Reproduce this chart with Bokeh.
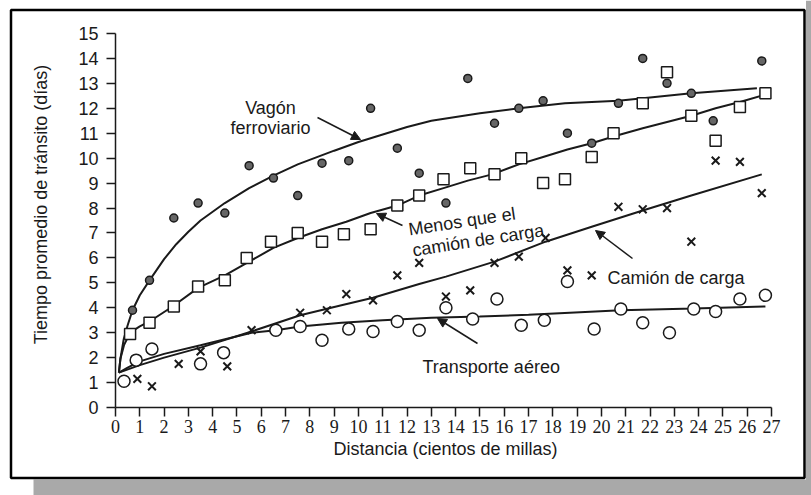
import math
from bokeh.plotting import figure
from bokeh.models import LinearAxis, FixedTicker, Arrow, NormalHead, Range1d
from bokeh.core.properties import value
from bokeh.embed import file_html
from bokeh.resources import INLINE

# ---------------- data ----------------
rail_x = [0.7, 1.4, 2.4, 3.4, 4.5, 5.5, 6.5, 7.5, 8.5, 9.6, 10.5, 11.6, 12.5, 13.6,
          14.5, 15.6, 16.6, 17.6, 18.6, 19.6, 20.7, 21.7, 22.7, 23.7, 24.6, 26.6]
rail_y = [3.9, 5.1, 7.6, 8.2, 7.8, 9.7, 9.2, 8.5, 9.8, 9.9, 12.0, 10.4, 9.4, 8.2,
          13.2, 11.4, 12.0, 12.3, 11.0, 10.6, 12.2, 14.0, 13.0, 12.6, 11.5, 13.9]

ltl_x = [0.6, 1.4, 2.4, 3.4, 4.5, 5.4, 6.4, 7.5, 8.5, 9.4, 10.5, 11.6, 12.5, 13.5,
         14.6, 15.6, 16.7, 17.6, 18.5, 19.6, 20.5, 21.7, 22.7, 23.7, 24.7, 25.7, 26.75]
ltl_y = [2.95, 3.4, 4.05, 4.85, 5.1, 6.0, 6.65, 7.0, 6.65, 6.95, 7.15, 8.1, 8.5, 9.15,
         9.6, 9.35, 10.0, 9.0, 9.15, 10.05, 11.0, 12.2, 13.45, 11.7, 10.7, 12.05, 12.6]

truck_x = [0.9, 1.5, 2.6, 3.5, 4.6, 5.6, 7.6, 8.7, 9.5, 10.6, 11.6, 12.5, 13.6, 14.6,
           15.6, 16.6, 17.7, 18.6, 19.6, 20.7, 21.7, 22.7, 23.7, 24.7, 25.7, 26.6]
truck_y = [1.15, 0.85, 1.75, 2.25, 1.65, 3.1, 3.8, 3.9, 4.55, 4.3, 5.3, 5.8, 4.45, 4.7,
           5.8, 6.05, 6.8, 5.5, 5.3, 8.05, 7.95, 8.0, 6.65, 9.9, 9.85, 8.6]

air_x = [0.35, 0.85, 1.5, 3.5, 4.45, 6.6, 7.6, 8.5, 9.6, 10.6, 11.6, 12.5, 13.6, 14.7,
         15.7, 16.7, 17.65, 18.6, 19.7, 20.8, 21.7, 22.8, 23.8, 24.7, 25.7, 26.75]
air_y = [1.05, 1.9, 2.35, 1.75, 2.2, 3.1, 3.25, 2.7, 3.15, 3.05, 3.45, 3.1, 4.0, 3.55,
         4.35, 3.3, 3.5, 5.05, 3.15, 3.95, 3.4, 3.0, 3.95, 3.85, 4.35, 4.5]

# fitted curves
rail_cx = [0.14, 0.21, 0.34, 0.5, 0.7, 1.0, 1.4, 2.0, 2.5, 3.0, 3.5, 4.5, 5.5, 6.5,
           7.5, 9.0, 10.0, 11.0, 12.0, 13.0, 15.0, 16.6, 18.5, 20.7, 23.7, 26.4]
rail_cy = [1.4, 2.0, 2.75, 3.3, 3.9, 4.5, 5.1, 5.95, 6.55, 7.05, 7.5, 8.2, 8.8, 9.3,
           9.75, 10.3, 10.65, 10.95, 11.25, 11.5, 11.8, 12.0, 12.2, 12.3, 12.6, 12.8]

ltl_cx = [0.14, 0.2, 0.35, 0.6, 1.0, 1.4, 2.35, 3.4, 4.5, 5.5, 6.5, 7.5, 8.5, 9.5,
          10.5, 11.6, 12.5, 13.5, 14.5, 15.5, 16.6, 17.6, 18.6, 19.6, 20.6, 21.7,
          22.7, 23.7, 24.7, 25.7, 26.75]
ltl_cy = [1.4, 1.95, 2.5, 3.0, 3.25, 3.45, 4.05, 4.8, 5.3, 5.85, 6.4, 6.8, 7.15, 7.45,
          7.8, 8.1, 8.5, 8.8, 9.1, 9.35, 9.75, 10.05, 10.35, 10.6, 10.9, 11.2,
          11.45, 11.7, 12.0, 12.25, 12.55]

truck_cx = [0.14, 1.0, 2.0, 3.5, 5.6, 7.6, 9.3, 10.6, 12.5, 13.6, 15.6, 17.7, 19.6,
            21.7, 23.7, 26.6]
truck_cy = [1.4, 1.7, 2.0, 2.4, 3.05, 3.7, 4.1, 4.4, 4.95, 5.25, 5.85, 6.65, 7.25,
            7.9, 8.5, 9.35]

air_cx = [0.14, 0.5, 1.0, 2.0, 3.5, 5.6, 6.6, 7.6, 9.3, 11.0, 13.0, 15.0, 17.0, 18.7,
          20.8, 23.8, 26.75]
air_cy = [1.4, 1.6, 1.85, 2.15, 2.5, 3.0, 3.1, 3.25, 3.4, 3.5, 3.6, 3.65, 3.72, 3.8,
          3.9, 3.97, 4.05]

x_ticks = list(range(0, 28))
y_ticks = list(range(0, 16))

# ---------------- layout helpers (page pixels -> data) ----------------
X0_PX, X_SCALE = 115.0, 656.0 / 27.0
Y0_PX, Y_SCALE = 407.0, 374.0 / 15.0
W, H, OFF = 811, 495, 0


def dx(px):
    return (px - X0_PX) / X_SCALE


def dy(py):
    return (Y0_PX - py) / Y_SCALE


FONT = "Liberation Sans"
NARROW = "Liberation Sans Narrow"
INK = "#1a1a1a"
SCAN = "#a9a9a9"

p = figure(width=W, height=H,
           x_range=Range1d(dx(OFF), dx(OFF + W)),
           y_range=Range1d(dy(OFF + H), dy(OFF)),
           x_axis_type=None, y_axis_type=None,
           toolbar_location=None, output_backend="svg",
           min_border=0, outline_line_color=None,
           background_fill_color="white", border_fill_color="white")

# scanned-page gray bands under and right of the box
p.quad(left=dx(33), right=dx(OFF + W), top=dy(479), bottom=dy(OFF + H),
       fill_color=SCAN, line_color=None)
p.quad(left=dx(805.5), right=dx(OFF + W), top=dy(OFF), bottom=dy(OFF + H),
       fill_color=SCAN, line_color=None)
# outer box
p.quad(left=dx(10.5), right=dx(804), top=dy(9.5), bottom=dy(477.5),
       fill_color=None, line_color="black", line_width=2.5)

# axes
xaxis = LinearAxis(fixed_location=0, bounds=(0, 27),
                   ticker=FixedTicker(ticks=x_ticks),
                   major_tick_in=0, major_tick_out=9,
                   minor_tick_line_color=None,
                   axis_line_width=1.5, axis_line_color=INK,
                   major_tick_line_width=1.5, major_tick_line_color=INK,
                   major_label_text_font=NARROW,
                   major_label_text_font_size="18px",
                   major_label_text_color=INK,
                   major_label_standoff=3)
p.add_layout(xaxis, "below")

yaxis = LinearAxis(fixed_location=0, bounds=(0, 15),
                   ticker=FixedTicker(ticks=y_ticks),
                   major_tick_in=0, major_tick_out=9,
                   minor_tick_line_color=None,
                   axis_line_width=1.5, axis_line_color=INK,
                   major_tick_line_width=1.5, major_tick_line_color=INK,
                   major_label_text_font=FONT,
                   major_label_text_font_size="18px",
                   major_label_text_color=INK,
                   major_label_standoff=8)
p.add_layout(yaxis, "left")

# curves
for cx, cy in [(rail_cx, rail_cy), (ltl_cx, ltl_cy), (truck_cx, truck_cy), (air_cx, air_cy)]:
    p.line(cx, cy, line_color=INK, line_width=2)

# markers
p.scatter(rail_x, rail_y, marker="circle", size=8, fill_color="#666666",
          line_color=INK, line_width=1.5)
p.scatter(ltl_x, ltl_y, marker="square", size=11, fill_color="white",
          line_color=INK, line_width=1.5)
p.scatter(truck_x, truck_y, marker="x", size=11, line_color=INK, line_width=2)
p.scatter(air_x, air_y, marker="circle", size=12, fill_color="white",
          line_color=INK, line_width=1.5)

# annotation texts
txt = dict(text_font=value(FONT), text_font_size="18px", text_color=INK)
p.text(x=[dx(270)], y=[dy(107.5)], text=["Vagón"], text_align="center",
       text_baseline="alphabetic", **txt)
p.text(x=[dx(270)], y=[dy(127.5)], text=["ferroviario"], text_align="center",
       text_baseline="alphabetic", **txt)
p.text(x=[dx(408)], y=[dy(229)], text=["Menos que el"], angle=0.15,
       text_align="left", text_baseline="alphabetic", **txt)
p.text(x=[dx(412)], y=[dy(250)], text=["camión de carga"], angle=0.155,
       text_align="left", text_baseline="alphabetic", **txt)
p.text(x=[dx(607)], y=[dy(277.5)], text=["Camión de carga"], text_align="left",
       text_baseline="alphabetic", **txt)
p.text(x=[dx(422)], y=[dy(366)], text=["Transporte aéreo"], text_align="left",
       text_baseline="alphabetic", **txt)

# axis titles
p.text(x=[dx(40)], y=[dy(204)], text=["Tiempo promedio de tránsito (días)"],
       angle=math.pi / 2, text_align="center", text_baseline="middle", **txt)
p.text(x=[dx(445)], y=[dy(448)], text=["Distancia (cientos de millas)"],
       text_align="center", text_baseline="middle", **txt)

# arrows
for (x0, y0, x1, y1) in [(317, 117, 360, 139), (402, 225, 376, 213),
                         (632, 258, 595, 230), (477, 343, 437, 318)]:
    p.add_layout(Arrow(end=NormalHead(size=9, fill_color=INK, line_color=INK),
                       x_start=dx(x0), y_start=dy(y0), x_end=dx(x1), y_end=dy(y1),
                       line_color=INK, line_width=1.5))

open("out.html", "w").write(file_html(p, INLINE))
